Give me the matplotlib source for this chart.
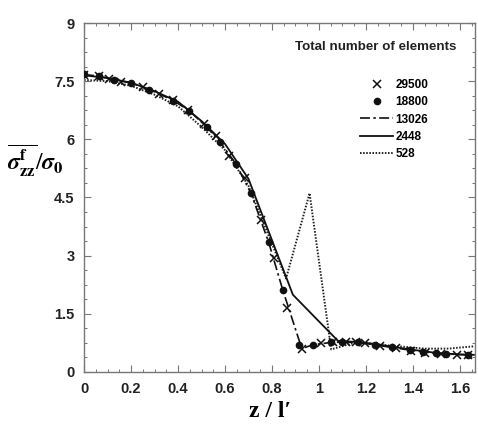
import numpy as np
import matplotlib
matplotlib.use('Agg')
import matplotlib.pyplot as plt
from matplotlib.ticker import MultipleLocator

plt.rcParams['font.family'] = ['Liberation Sans', 'DejaVu Sans']
plt.rcParams['mathtext.fontset'] = 'stix'

# 29500 elements (crosses)
x_29500 = [0, 0.064, 0.107, 0.156, 0.249, 0.32, 0.377, 0.441, 0.512, 0.562, 0.619, 0.683,
           0.754, 0.81, 0.863, 0.927, 1.01, 1.06, 1.116, 1.159, 1.195, 1.258, 1.33, 1.39,
           1.45, 1.52, 1.586, 1.635]
y_29500 = [7.66, 7.64, 7.56, 7.49, 7.35, 7.17, 7.02, 6.76, 6.39, 6.09, 5.56, 5.0,
           3.93, 2.94, 1.65, 0.6, 0.74, 0.76, 0.77, 0.77, 0.74, 0.67, 0.61, 0.55,
           0.5, 0.46, 0.44, 0.44]

# 18800 elements (dots)
x_18800 = [0, 0.064, 0.128, 0.199, 0.277, 0.377, 0.445, 0.522, 0.579, 0.647, 0.711, 0.786,
           0.846, 0.917, 0.974, 1.052, 1.10, 1.166, 1.237, 1.31, 1.387, 1.443, 1.5, 1.543,
           1.635]
y_18800 = [7.69, 7.64, 7.53, 7.45, 7.28, 7.0, 6.74, 6.31, 5.92, 5.36, 4.61, 3.34,
           2.11, 0.70, 0.70, 0.77, 0.78, 0.76, 0.70, 0.64, 0.57, 0.52, 0.48, 0.46,
           0.44]

# 13026 elements (dash-dot)
x_13026 = [0, 0.064, 0.128, 0.2, 0.28, 0.377, 0.445, 0.52, 0.58, 0.647, 0.711, 0.786,
           0.846, 0.927, 0.974, 1.052, 1.10, 1.166, 1.237, 1.31, 1.39, 1.45, 1.52, 1.586,
           1.635]
y_13026 = [7.67, 7.63, 7.54, 7.45, 7.28, 7.01, 6.75, 6.33, 5.92, 5.36, 4.6, 3.34,
           2.11, 0.6, 0.70, 0.76, 0.77, 0.76, 0.70, 0.63, 0.56, 0.51, 0.47, 0.45,
           0.44]

# 2448 elements (solid)
x_2448 = [0, 0.1, 0.2, 0.3, 0.4, 0.5, 0.6, 0.7, 0.732, 0.889, 1.081, 1.166, 1.24,
          1.3, 1.4, 1.5, 1.6, 1.66]
y_2448 = [7.65, 7.58, 7.46, 7.24, 6.97, 6.47, 5.88, 4.98, 4.47, 1.99, 0.80, 0.77, 0.72,
          0.66, 0.57, 0.49, 0.45, 0.44]

# 528 elements (dotted)
x_528 = [0, 0.1, 0.2, 0.3, 0.4, 0.5, 0.6, 0.7, 0.76, 0.86, 0.96, 1.052, 1.16,
         1.3, 1.45, 1.55, 1.66]
y_528 = [7.53, 7.5, 7.38, 7.15, 6.85, 6.32, 5.72, 4.8, 3.9, 2.41, 4.61, 0.58, 0.77,
         0.68, 0.60, 0.60, 0.66]

fig = plt.figure(figsize=(4.78, 4.26), dpi=100)
ax = fig.add_axes([0.176, 0.127, 0.818, 0.819])

ax.plot(x_528, y_528, color='#222222', ls=(0, (0.8, 0.8)), lw=1.4, label='528', zorder=2)
ax.plot(x_2448, y_2448, color='#111111', ls='-', lw=1.3, label='2448', zorder=2)
ax.plot(x_13026, y_13026, color='#111111', ls=(0, (6, 2, 1.5, 2)), lw=1.2, label='13026', zorder=3)
ax.plot(x_18800, y_18800, ls='none', marker='o', ms=4.5, color='#111111', label='18800', zorder=4)
ax.plot(x_29500, y_29500, ls='none', marker='x', ms=5.5, mew=1.1, color='#111111', label='29500', zorder=5)

ax.set_xlim(0, 1.665)
ax.set_ylim(0, 9)
ax.set_xticks([0, 0.2, 0.4, 0.6, 0.8, 1, 1.2, 1.4, 1.6])
ax.set_xticklabels(['0', '0.2', '0.4', '0.6', '0.8', '1', '1.2', '1.4', '1.6'])
ax.set_yticks([0, 1.5, 3, 4.5, 6, 7.5, 9])
ax.set_yticklabels(['0', '1.5', '3', '4.5', '6', '7.5', '9'])
ax.xaxis.set_minor_locator(MultipleLocator(0.05))
ax.yaxis.set_minor_locator(MultipleLocator(0.375))
ax.tick_params(which='both', direction='in', top=True, right=True, color='#777777')
ax.tick_params(which='major', length=5, width=0.8, labelsize=10.5, pad=7, labelcolor='#222222')
ax.tick_params(which='minor', length=2.5, width=0.7)
for lab in ax.get_xticklabels() + ax.get_yticklabels():
    lab.set_fontweight('bold')
for sp in ax.spines.values():
    sp.set_color('#777777')
    sp.set_linewidth(1.0)

handles, labels = ax.get_legend_handles_labels()
order = [4, 3, 2, 1, 0]
leg = ax.legend([handles[i] for i in order], [labels[i] for i in order],
                loc='upper left', bbox_to_anchor=(360 / 478, 1 - 79 / 426),
                bbox_transform=fig.transFigure, frameon=False, borderpad=0, borderaxespad=0,
                handlelength=2.8, handletextpad=0.2, labelspacing=0.45,
                prop={'weight': 'bold', 'size': 8.5})
fig.text(295 / 478, 1 - 47 / 426, 'Total number of elements', fontsize=9.6, fontweight='bold',
         color='#222222', ha='left', va='center')

fig.text(0.015, 0.625, r'$\overline{\boldsymbol{\sigma}^{\mathbf{f}}_{\mathbf{zz}}}/\boldsymbol{\sigma}_{\mathbf{0}}$',
         fontsize=17, ha='left', va='center')
fig.text(0.565, 0.035, 'z / l\u2032', fontsize=17, fontweight='bold',
         family=['Liberation Serif', 'DejaVu Serif'], ha='center', va='center')

fig.savefig('out.png', dpi=100)
